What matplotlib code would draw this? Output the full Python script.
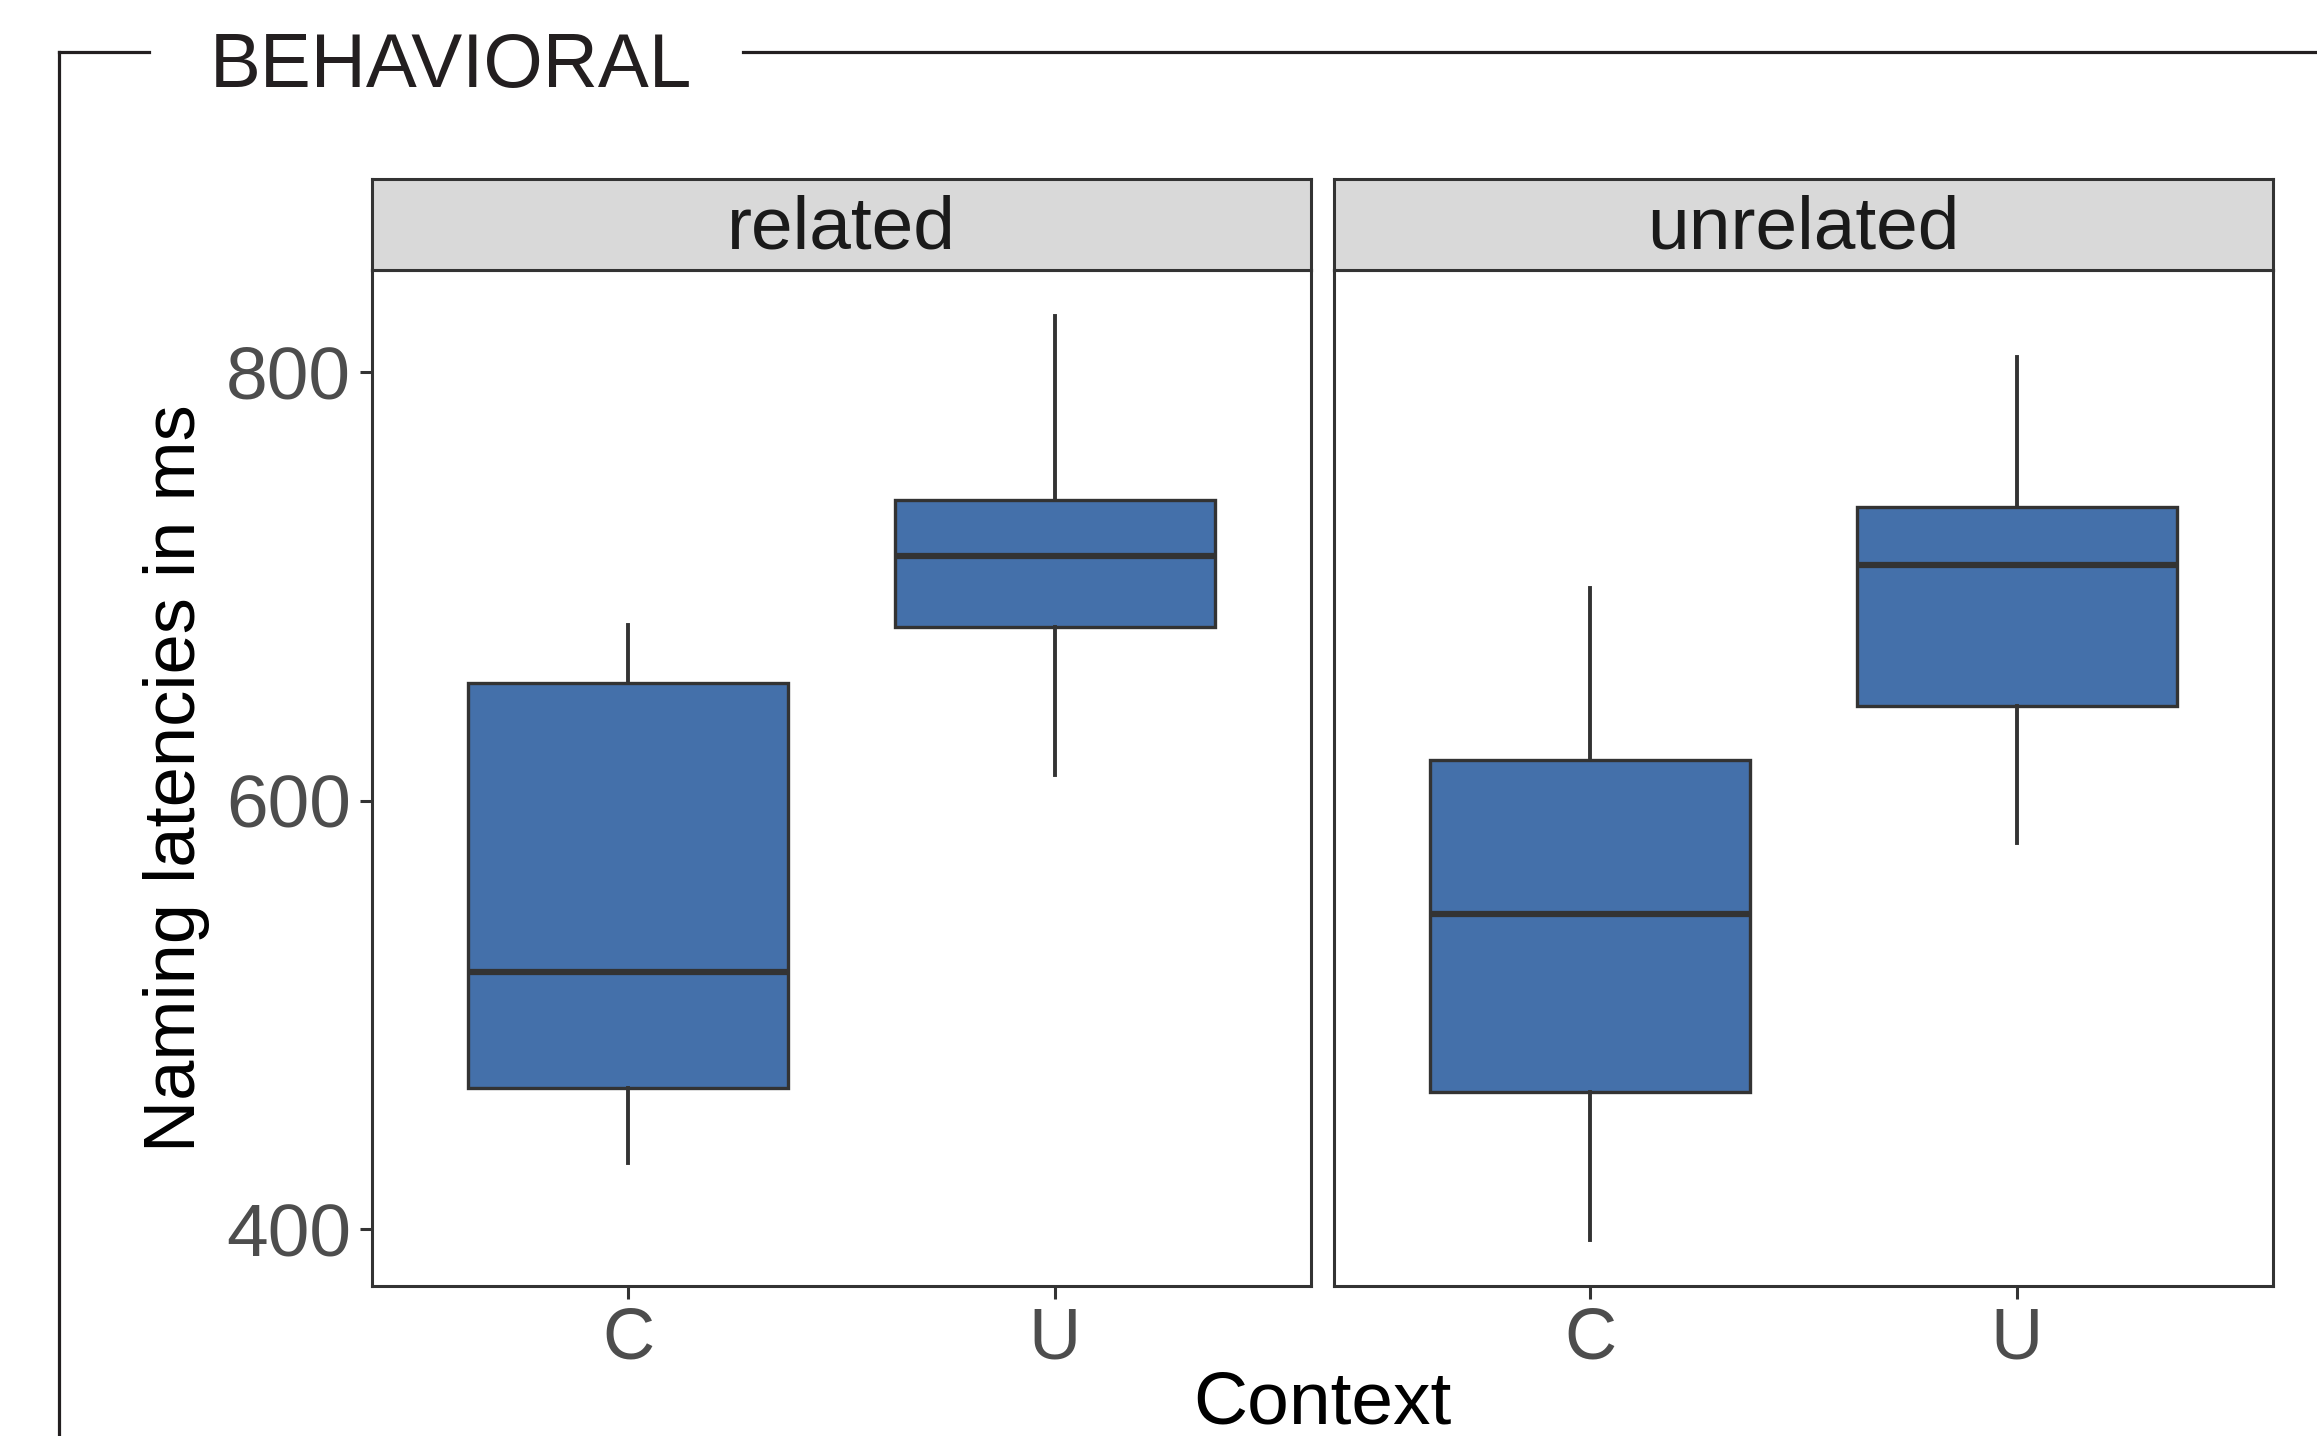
import matplotlib
matplotlib.use("Agg")
import matplotlib.pyplot as plt
from matplotlib.lines import Line2D

plt.rcParams["font.family"] = ["Liberation Sans", "DejaVu Sans"]

# five-number summaries per facet / context (ms)
FACETS = ["related", "unrelated"]
CONTEXTS = ["C", "U"]
WHISLO = {"related": [431, 612], "unrelated": [395, 580]}
Q1 = {"related": [466, 681], "unrelated": [464, 644]}
MED = {"related": [520, 714], "unrelated": [547, 710]}
Q3 = {"related": [655, 740], "unrelated": [619, 737]}
WHISHI = {"related": [682, 826], "unrelated": [699, 807]}
YTICKS = [400, 600, 800]

W, H = 2317, 1436
DARK = "#333333"
FILL = "#4470AA"

fig = plt.figure(figsize=(W / 100, H / 100), dpi=100)


def rect(x0, y0, x1, y1):
    # pixel box (top-left origin) -> figure fraction [l, b, w, h]
    return [x0 / W, 1 - y1 / H, (x1 - x0) / W, (y1 - y0) / H]


# shared y range like ggplot: data range expanded by 5%
lo = min(min(v) for v in WHISLO.values())
hi = max(max(v) for v in WHISHI.values())
pad = 0.05 * (hi - lo)
ylim = (lo - pad, hi + pad)

panels = [(372, 1311), (1334, 2273)]
for i, (facet, (x0, x1)) in enumerate(zip(FACETS, panels)):
    ax = fig.add_axes(rect(x0, 270, x1, 1286))
    stats = [dict(whislo=WHISLO[facet][k], q1=Q1[facet][k], med=MED[facet][k],
                  q3=Q3[facet][k], whishi=WHISHI[facet][k], label=c)
             for k, c in enumerate(CONTEXTS)]
    ax.bxp(stats, positions=[1, 2], widths=0.75, patch_artist=True,
           showcaps=False, showfliers=False,
           boxprops=dict(facecolor=FILL, edgecolor=DARK, linewidth=2.4),
           medianprops=dict(color=DARK, linewidth=4.5, solid_capstyle="butt"),
           whiskerprops=dict(color=DARK, linewidth=2.8))
    ax.set_xlim(0.4, 2.6)
    ax.set_ylim(*ylim)
    ax.set_xticks([1, 2])
    ax.set_xticklabels(CONTEXTS)
    ax.set_yticks(YTICKS)
    ax.tick_params(axis="both", length=9, width=2.2, color=DARK,
                   labelcolor="#4D4D4D", pad=6)
    ax.tick_params(axis="x", labelsize=52)
    ax.tick_params(axis="y", labelsize=54)
    if i > 0:
        ax.tick_params(axis="y", left=False, labelleft=False)
    for s in ax.spines.values():
        s.set_color(DARK)
        s.set_linewidth(2.2)

    # facet strip
    st = fig.add_axes(rect(x0, 179, x1, 270))
    st.set_facecolor("#D9D9D9")
    st.set_xticks([])
    st.set_yticks([])
    for s in st.spines.values():
        s.set_color(DARK)
        s.set_linewidth(2.2)
    st.text(0.5, 0.45, facet, ha="center", va="center", fontsize=54,
            color="#1A1A1A", transform=st.transAxes)

fig.text(177 / W, 1 - 778 / H, "Naming latencies in ms", rotation=90,
         ha="center", va="center", fontsize=52, color="black")
fig.text(1322 / W, 1 - 1424 / H, "Context", ha="center", va="baseline",
         fontsize=54, color="black")

# outer group frame with the section title set into the top edge
frame = dict(color="#231F20", linewidth=2.3, solid_capstyle="projecting")
fig.add_artist(Line2D([59 / W, 59 / W], [1 - 52 / H, 0], transform=fig.transFigure, **frame))
fig.add_artist(Line2D([59 / W, 149 / W], [1 - 52 / H, 1 - 52 / H], transform=fig.transFigure, **frame))
fig.add_artist(Line2D([743 / W, 1], [1 - 52 / H, 1 - 52 / H], transform=fig.transFigure, **frame))
fig.text(210 / W, 1 - 87 / H, "BEHAVIORAL", ha="left", va="baseline",
         fontsize=55, color="#231F20")

fig.savefig("out.png", dpi=100, facecolor="white")
